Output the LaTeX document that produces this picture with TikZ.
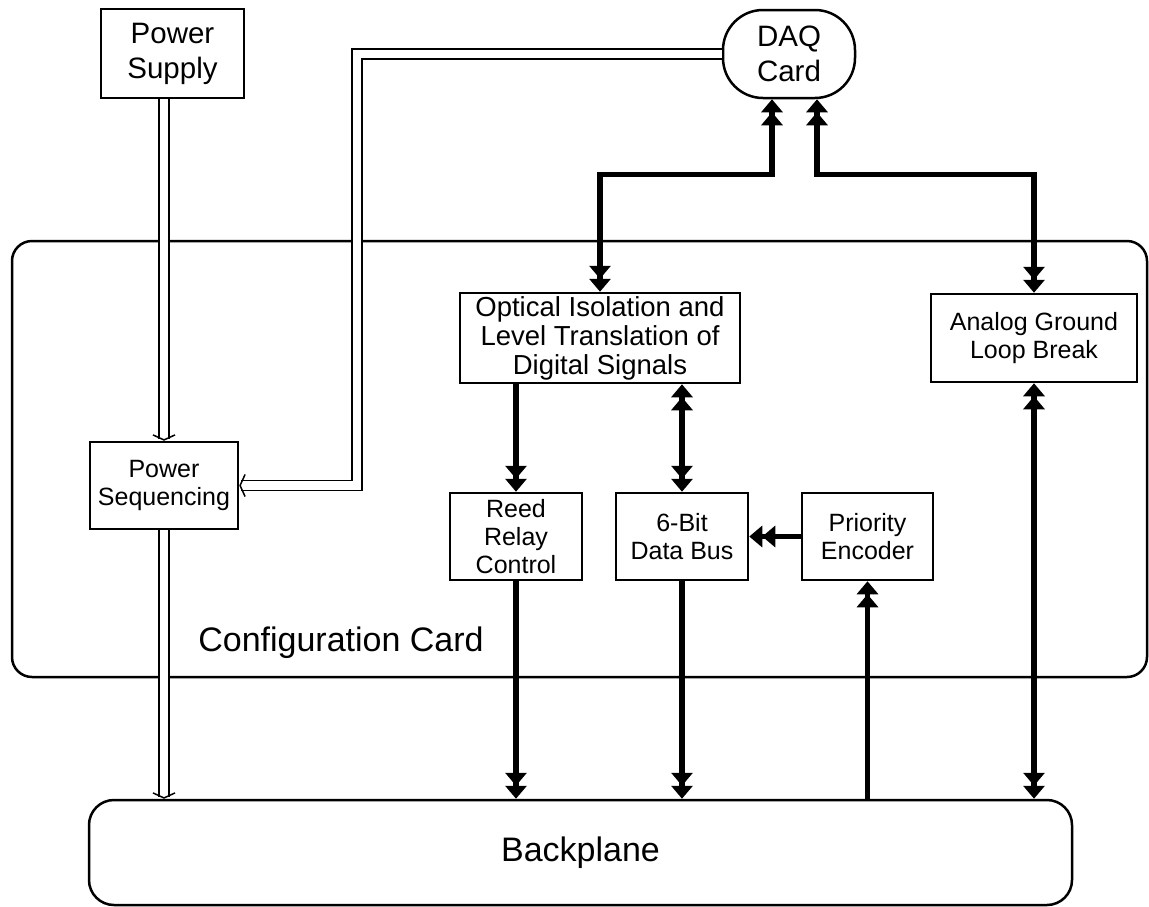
\documentclass[tikz,border=0pt]{standalone}
\usepackage{fontspec}
\setmainfont{Liberation Sans}
\usetikzlibrary{arrows.meta,positioning,calc}
\tikzset{
  unitbox/.style={draw, line width=2.5pt, align=center, inner sep=1pt,
    font=\fontsize{25}{28}\selectfont},
  bigunit/.style={unitbox, font=\fontsize{29.5}{35}\selectfont},
  roundbox/.style={draw, line width=2.5pt, rounded corners=#1},
  roundbox/.default=20pt,
  bigtext/.style={font=\fontsize{34}{40}\selectfont},
  busline/.style={line width=5.5pt},
  busto/.style={busline, -{Triangle[length=13pt,width=21pt]Triangle[length=13pt,width=21pt]}},
  busboth/.style={busline, {Triangle[length=13pt,width=21pt]Triangle[length=13pt,width=21pt]}-{Triangle[length=13pt,width=21pt]Triangle[length=13pt,width=21pt]}},
  pwrline/.style={double, double distance=8.5pt, line width=1.5pt,
    -{Straight Barb[length=5pt,width=22pt,line width=1.5pt]}}
}
\begin{document}
\begin{tikzpicture}[x=1pt, y=-1pt]
  \useasboundingbox (0,0) rectangle (1149,906);
  % configuration card
  \node[roundbox=20pt, minimum width=1135pt, minimum height=436pt] (card) at (579.5,459) {};
  \node[bigtext, anchor=base] (cardlabel) at (341,651) {Configuration Card};

  \node[bigunit, minimum width=143pt, minimum height=89pt] (supply) at (172.5,53.5) {Power\\Supply};
  \node[bigunit, rounded corners=40pt, minimum width=132pt, minimum height=88pt] (daq) at (789,54) {DAQ\\Card};
  \node[unitbox, minimum width=148pt, minimum height=87pt] (pseq) at (164,485.5) {Power\\Sequencing};
  \node[unitbox, font=\fontsize{27.5}{29}\selectfont, minimum width=280pt, minimum height=90pt] (optical) at (600,338)
    {Optical Isolation and\\Level Translation of\\Digital Signals};
  \node[unitbox, minimum width=206pt, minimum height=88pt] (analog) at (1034,338) {Analog Ground\\Loop Break};
  \node[unitbox, minimum width=132pt, minimum height=87pt] (reed) at (516,536.5) {Reed\\Relay\\Control};
  \node[unitbox, minimum width=132pt, minimum height=87pt, right=31.5pt of reed] (databus) {6-Bit\\Data Bus};
  \node[unitbox, minimum width=131pt, minimum height=87pt, right=51.5pt of databus] (prio) {Priority\\Encoder};
  \node[roundbox=25pt, bigtext, minimum width=983pt, minimum height=105pt] (backplane) at (580.5,852.5) {Backplane};

  % power lines
  \draw[pwrline] (supply.south -| pseq.north) -- (pseq.north);
  \draw[pwrline] (pseq.south) -- (pseq.south |- backplane.north);
  \draw[pwrline] (daq.west) -- ++(-365,0) |- (pseq.east);

  % signal lines
  \draw[busboth] ($(daq.south)+(-17,0)$) -- ++(0,75) -| (optical.north);
  \draw[busboth] ($(daq.south)+(28,0)$) -- ++(0,75) -| (analog.north);
  \draw[busto] (optical.south -| reed.north) -- (reed.north);
  \draw[busboth] (optical.south -| databus.north) -- (databus.north);
  \draw[busto] (prio.west) -- (databus.east);
  \draw[busto] (reed.south) -- (reed.south |- backplane.north);
  \draw[busto] (databus.south) -- (databus.south |- backplane.north);
  \draw[busto] (prio.south |- backplane.north) -- (prio.south);
  \draw[busboth] (analog.south) -- (analog.south |- backplane.north);
\end{tikzpicture}
\end{document}
